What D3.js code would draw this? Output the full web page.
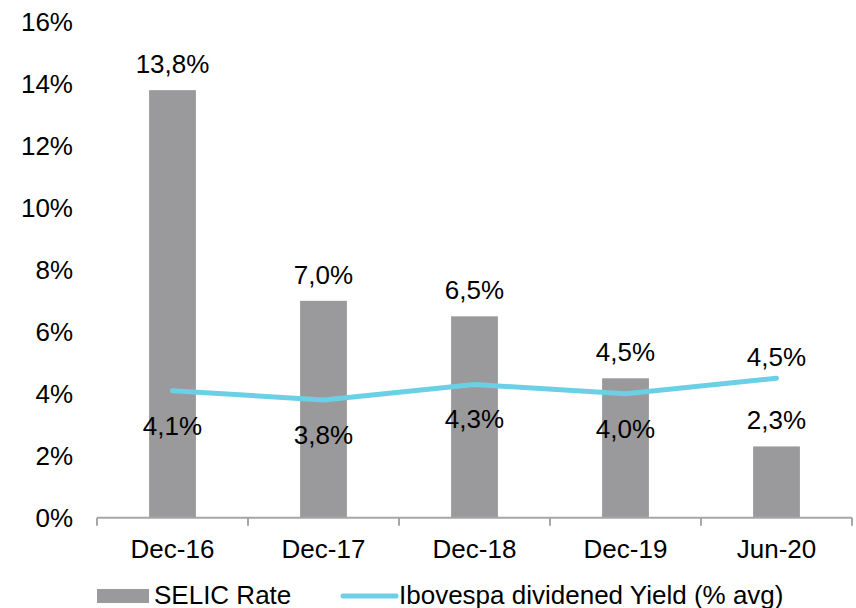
<!DOCTYPE html>
<html>
<head>
<meta charset="utf-8">
<script src="https://cdn.jsdelivr.net/npm/d3@7"></script>
<style>
  body { margin: 0; background: #fff; }
  svg text { font-family: "Liberation Sans", Arial, sans-serif; fill: #000; font-size: 26px; }
</style>
</head>
<body>
<div id="chart"></div>
<script>
// data
var categories = ["Dec-16", "Dec-17", "Dec-18", "Dec-19", "Jun-20"];
var selicRate  = [13.8, 7.0, 6.5, 4.5, 2.3];
var divYield   = [4.1, 3.8, 4.3, 4.0, 4.5];
var yTicks     = [0, 2, 4, 6, 8, 10, 12, 14, 16];
var yieldLabelSide = ["below", "below", "below", "below", "above"];

var width = 856, height = 608;
var margin = {top: 22, right: 4, bottom: 90, left: 97};
var innerW = width - margin.left - margin.right,
    innerH = height - margin.top - margin.bottom;

var fmt = function(v) { return v.toFixed(1).replace(".", ",") + "%"; };

var svg = d3.select("#chart").append("svg")
    .attr("width", width)
    .attr("height", height);

var g = svg.append("g")
    .attr("transform", "translate(" + margin.left + "," + margin.top + ")");

var x = d3.scaleBand()
    .domain(categories)
    .range([0, 755])
    .paddingInner(0.69)
    .paddingOuter(0.345);

var xBand = d3.scaleBand().domain(categories).range([0, 755]);

var y = d3.scaleLinear()
    .domain([0, 16])
    .range([innerH - 0.3, 0]);

// y labels (no axis line)
g.selectAll(".ylab")
    .data(yTicks)
  .enter().append("text")
    .attr("class", "ylab")
    .attr("x", -24)
    .attr("y", function(d) { return y(d); })
    .attr("dy", "0.36em")
    .attr("text-anchor", "end")
    .text(function(d) { return d + "%"; });

// bars
g.selectAll(".bar")
    .data(selicRate)
  .enter().append("rect")
    .attr("class", "bar")
    .attr("x", function(d, i) { return x(categories[i]); })
    .attr("width", x.bandwidth())
    .attr("y", function(d) { return y(d); })
    .attr("height", function(d) { return y(0) - y(d); })
    .attr("fill", "#9a9a9c");

// x axis
var xAxis = d3.axisBottom(xBand).tickSize(0).tickPadding(0);
var ax = g.append("g")
    .attr("transform", "translate(0," + y(0) + ")")
    .call(xAxis);
ax.select(".domain").attr("stroke", "#a6a6a6").attr("stroke-width", 2).attr("d", "M0,0H755");
ax.selectAll(".tick text").remove();
var edges = d3.range(categories.length + 1).map(function(i) { return i * xBand.bandwidth(); });
ax.selectAll(".edge")
    .data(edges)
  .enter().append("line")
    .attr("x1", function(d) { return d; })
    .attr("x2", function(d) { return d; })
    .attr("y1", 0).attr("y2", 8)
    .attr("stroke", "#a6a6a6").attr("stroke-width", 2);

g.selectAll(".xlab")
    .data(categories)
  .enter().append("text")
    .attr("class", "xlab")
    .attr("x", function(d) { return xBand(d) + xBand.bandwidth() / 2; })
    .attr("y", y(0) + 40)
    .attr("text-anchor", "middle")
    .text(function(d) { return d; });

// line
var cx = function(i) { return x(categories[i]) + x.bandwidth() / 2; };
var line = d3.line()
    .x(function(d, i) { return cx(i); })
    .y(function(d) { return y(d); });

g.append("path")
    .datum(divYield)
    .attr("d", line)
    .attr("fill", "none")
    .attr("stroke", "#6bcfe5")
    .attr("stroke-width", 5)
    .attr("stroke-linecap", "round")
    .attr("stroke-linejoin", "round");

// bar labels
g.selectAll(".blab")
    .data(selicRate)
  .enter().append("text")
    .attr("class", "blab")
    .attr("x", function(d, i) { return cx(i); })
    .attr("y", function(d) { return y(d) - 17; })
    .attr("text-anchor", "middle")
    .text(fmt);

// yield labels
g.selectAll(".llab")
    .data(divYield)
  .enter().append("text")
    .attr("class", "llab")
    .attr("x", function(d, i) { return cx(i); })
    .attr("y", function(d, i) { return yieldLabelSide[i] === "above" ? y(d) - 12 : y(d) + 44; })
    .attr("text-anchor", "middle")
    .text(fmt);

// legend
var lg = svg.append("g").attr("transform", "translate(97,596)");
lg.append("rect").attr("x", 0).attr("y", -7).attr("width", 52).attr("height", 14).attr("fill", "#9a9a9c");
lg.append("text").attr("x", 57).attr("y", 8).text("SELIC Rate");
lg.append("line").attr("x1", 246).attr("x2", 299).attr("y1", 0).attr("y2", 0)
    .attr("stroke", "#6bcfe5").attr("stroke-width", 5).attr("stroke-linecap", "round");
lg.append("text").attr("x", 302).attr("y", 8).text("Ibovespa dividened Yield (% avg)");
</script>
</body>
</html>
